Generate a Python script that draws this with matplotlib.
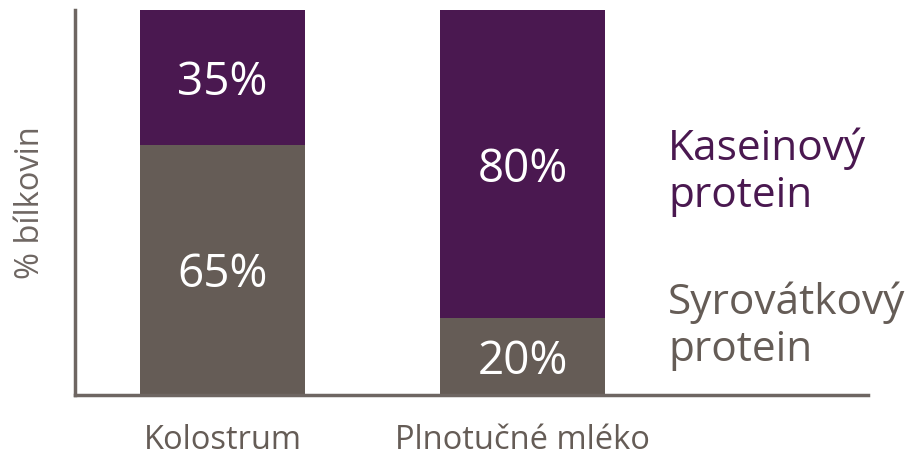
import numpy as np
import matplotlib.pyplot as plt

plt.rcParams['font.family'] = ['Open Sans', 'DejaVu Sans']

categories = ['Kolostrum', 'Plnotučné mléko']
syrovatkovy = [65, 20]   # whey, bottom
kaseinovy = [35, 80]     # casein, top

purple = '#4a1850'
gray = '#655c56'

fig = plt.figure(figsize=(9.08, 4.59), dpi=100)
ax = fig.add_axes([0.0826, 0.1394, 0.8733, 0.8388])

x = np.arange(len(categories))
ax.bar(x, syrovatkovy, width=0.55, color=gray)
ax.bar(x, kaseinovy, width=0.55, bottom=syrovatkovy, color=purple)

# percentage labels inside the bars
for i in range(len(categories)):
    ax.text(x[i], syrovatkovy[i] / 2, f'{syrovatkovy[i]}%', ha='center',
            va='center_baseline', color='white', fontsize=33)
    ax.text(x[i], syrovatkovy[i] + kaseinovy[i] / 2, f'{kaseinovy[i]}%', ha='center',
            va='center_baseline', color='white', fontsize=33)

ax.set_xlim(-0.4917, 2.1517)
ax.set_ylim(0, 100)
ax.set_xticks(x)
ax.set_xticklabels(categories, fontsize=23.5, color=gray)
ax.tick_params(axis='x', length=0, pad=21)
ax.set_yticks([])
ax.set_ylabel('% bílkovin', fontsize=23.5, color='#6e6662', labelpad=20)

for s in ['top', 'right']:
    ax.spines[s].set_visible(False)
for s in ['left', 'bottom']:
    ax.spines[s].set_color('#6e6662')
    ax.spines[s].set_linewidth(2.5)

# legend as text labels
ax.text(1.485, 57.9, 'Kaseinový\nprotein', color=purple, fontsize=30.5,
        ha='left', va='center', linespacing=1.17)
ax.text(1.485, 17.9, 'Syrovátkový\nprotein', color=gray, fontsize=30.5,
        ha='left', va='center', linespacing=1.17)

fig.savefig('out.png', dpi=100)
